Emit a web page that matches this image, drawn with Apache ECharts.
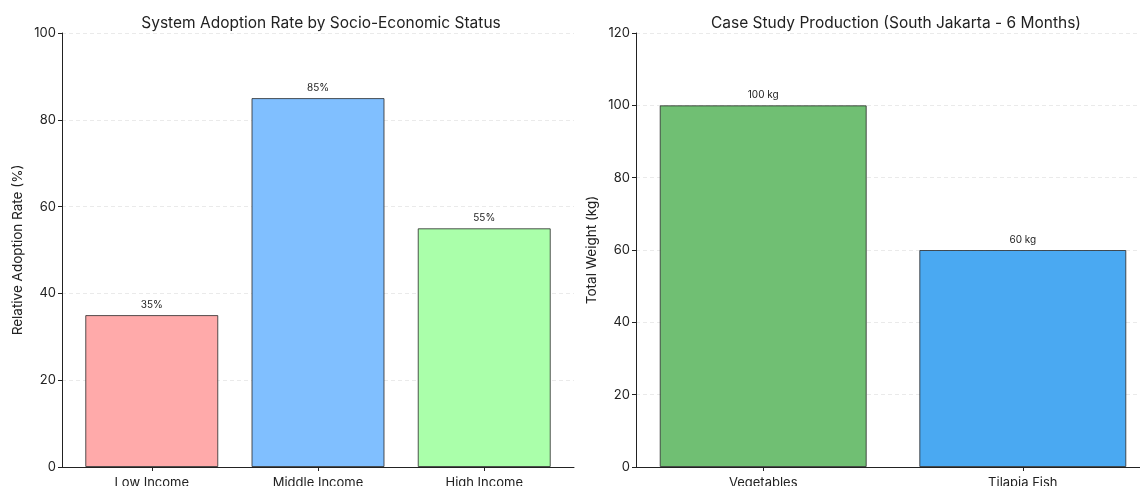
<!DOCTYPE html>
<html>
<head>
<meta charset="utf-8">
<script src="https://cdn.jsdelivr.net/npm/echarts@6/dist/echarts.min.js"></script>
<style>
  html, body { margin: 0; padding: 0; background: #fff; }
  #chart { width: 1140px; height: 486px; }
</style>
</head>
<body>
<div id="chart"></div>
<script>
// Left panel: adoption rate by income group
const incomeGroups = ['Low Income', 'Middle Income', 'High Income'];
const adoptionRates = [35, 85, 55];
const incomeColors = ['#ffaaaa', '#80bfff', '#aaffaa'];

// Right panel: six-month production in South Jakarta
const products = ['Vegetables', 'Tilapia Fish'];
const productionKg = [100, 60];
const productColors = ['#70bf73', '#4aa9f2'];

const FONT = 'Inter, "Noto Sans", sans-serif';
const chart = echarts.init(document.getElementById('chart'), null, { renderer: 'canvas' });

const edge = 'rgba(40,40,40,0.8)';
const ink = '#222';

function yAxis(gridIndex, max, name) {
  return {
    type: 'value', gridIndex, min: 0, max, interval: 20, position: 'left',
    name, nameLocation: 'middle', nameGap: 37,
    nameTextStyle: { fontFamily: FONT, fontSize: 13.5, color: ink },
    axisLine: { show: true, onZero: false, lineStyle: { color: ink, width: 1 } },
    axisTick: { show: true, length: 4, lineStyle: { color: ink } },
    axisLabel: { fontFamily: FONT, fontSize: 13, color: ink, margin: 6 },
    splitLine: { show: true, lineStyle: { color: '#e4e4e4', type: [4, 3], width: 0.8 } }
  };
}

// Bars sit at integer positions on a numeric axis padded like a bar plot,
// with ticks and labels only at the category positions.
function xAxis(gridIndex, names, pad) {
  const positions = names.map((_, i) => i);
  return {
    type: 'value', gridIndex, min: -pad, max: names.length - 1 + pad, position: 'bottom',
    splitLine: { show: false },
    axisLine: { show: true, onZero: false, lineStyle: { color: ink, width: 1 } },
    axisTick: { show: true, customValues: positions, length: 4, lineStyle: { color: ink } },
    axisLabel: { customValues: positions, formatter: v => names[Math.round(v)] || '',
      fontFamily: FONT, fontSize: 13, color: ink, margin: 10 }
  };
}

chart.setOption({
  animation: false,
  backgroundColor: '#fff',
  title: [
    { text: 'System Adoption Rate by Socio-Economic Status', left: 316, top: 10, textAlign: 'center',
      textStyle: { fontFamily: FONT, fontSize: 15.5, fontWeight: 'normal', color: ink } },
    { text: 'Case Study Production (South Jakarta - 6 Months)', left: 891, top: 10, textAlign: 'center',
      textStyle: { fontFamily: FONT, fontSize: 15.5, fontWeight: 'normal', color: ink } }
  ],
  grid: [
    { left: 62, top: 33, width: 512, height: 434, outerBoundsMode: 'none' },
    { left: 636, top: 33, width: 514, height: 434, outerBoundsMode: 'none' }
  ],
  xAxis: [xAxis(0, incomeGroups, 0.54), xAxis(1, products, 0.49)],
  yAxis: [yAxis(0, 100, 'Relative Adoption Rate (%)'), yAxis(1, 120, 'Total Weight (kg)')],
  series: [
    {
      type: 'bar', xAxisIndex: 0, yAxisIndex: 0, barWidth: 133,
      data: adoptionRates.map((v, i) => ({
        value: [i, v],
        itemStyle: { color: incomeColors[i], borderColor: edge, borderWidth: 1 }
      })),
      label: { show: true, position: 'top', distance: 5, formatter: p => p.value[1] + '%',
        fontFamily: FONT, fontSize: 10, color: ink }
    },
    {
      type: 'bar', xAxisIndex: 1, yAxisIndex: 1, barWidth: 207,
      data: productionKg.map((v, i) => ({
        value: [i, v],
        itemStyle: { color: productColors[i], borderColor: edge, borderWidth: 1 }
      })),
      label: { show: true, position: 'top', distance: 5, formatter: p => p.value[1] + ' kg',
        fontFamily: FONT, fontSize: 10, color: ink }
    }
  ]
});
</script>
</body>
</html>
